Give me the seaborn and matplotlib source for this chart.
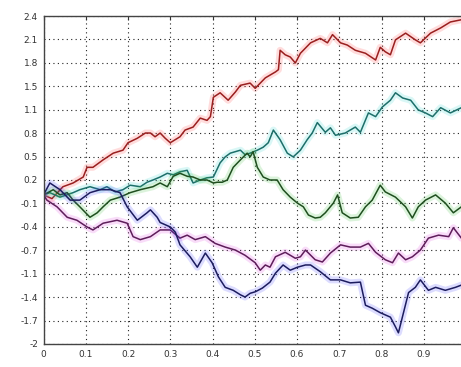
import numpy as np
import pandas as pd
import seaborn as sns
import matplotlib
matplotlib.use("Agg")
from matplotlib import pyplot as plt
import matplotlib.patheffects as pe

# five sample paths
red_t = [0, 0.02, 0.046, 0.07, 0.094, 0.103, 0.117, 0.141, 0.165, 0.188, 0.2, 0.222, 0.241, 0.253,
         0.264, 0.276, 0.288, 0.3, 0.323, 0.335, 0.354, 0.371, 0.387, 0.395, 0.402, 0.418, 0.437,
         0.454, 0.466, 0.489, 0.501, 0.525, 0.549, 0.556, 0.56, 0.572, 0.584, 0.596, 0.608, 0.632,
         0.655, 0.672, 0.684, 0.703, 0.719, 0.738, 0.762, 0.786, 0.797, 0.809, 0.821, 0.833, 0.857,
         0.88, 0.892, 0.916, 0.94, 0.963, 0.989, 1.0]
red_y = [0, -0.05, 0.11, 0.16, 0.24, 0.37, 0.37, 0.47, 0.56, 0.60, 0.70, 0.76, 0.83, 0.83,
         0.78, 0.83, 0.76, 0.70, 0.78, 0.87, 0.91, 1.03, 1.00, 1.05, 1.31, 1.37, 1.27,
         1.38, 1.47, 1.50, 1.43, 1.57, 1.65, 1.68, 1.94, 1.88, 1.85, 1.77, 1.90, 2.04,
         2.10, 2.04, 2.15, 2.04, 2.01, 1.94, 1.90, 1.81, 1.98, 1.92, 1.88, 2.08, 2.17,
         2.08, 2.04, 2.17, 2.24, 2.32, 2.35, 2.37]

cyan_t = [0, 0.015, 0.039, 0.07, 0.086, 0.11, 0.134, 0.15, 0.17, 0.188, 0.205, 0.229, 0.245,
          0.259, 0.276, 0.293, 0.307, 0.323, 0.34, 0.354, 0.371, 0.387, 0.402, 0.418, 0.43,
          0.442, 0.466, 0.477, 0.489, 0.506, 0.52, 0.532, 0.544, 0.56, 0.577, 0.591, 0.608,
          0.624, 0.636, 0.648, 0.667, 0.679, 0.691, 0.714, 0.738, 0.75, 0.769, 0.786, 0.802,
          0.821, 0.833, 0.85, 0.869, 0.887, 0.904, 0.921, 0.94, 0.963, 0.989, 1.0]
cyan_y = [0, 0.03, -0.03, 0.03, 0.07, 0.11, 0.07, 0.11, 0.04, 0.07, 0.13, 0.11, 0.17,
          0.20, 0.24, 0.29, 0.27, 0.31, 0.33, 0.16, 0.20, 0.23, 0.24, 0.43, 0.51,
          0.56, 0.60, 0.54, 0.56, 0.60, 0.64, 0.70, 0.87, 0.74, 0.56, 0.51, 0.60,
          0.74, 0.83, 0.97, 0.84, 0.90, 0.80, 0.83, 0.91, 0.84, 1.10, 1.05, 1.18,
          1.27, 1.37, 1.30, 1.27, 1.14, 1.10, 1.05, 1.17, 1.10, 1.17, 1.13]

green_t = [0, 0.023, 0.039, 0.056, 0.07, 0.086, 0.11, 0.127, 0.141, 0.158, 0.181, 0.205, 0.229,
           0.259, 0.276, 0.293, 0.307, 0.323, 0.34, 0.354, 0.371, 0.387, 0.402, 0.411, 0.423,
           0.435, 0.449, 0.466, 0.482, 0.489, 0.496, 0.506, 0.52, 0.536, 0.553, 0.567, 0.584,
           0.601, 0.615, 0.627, 0.643, 0.655, 0.667, 0.686, 0.696, 0.707, 0.726, 0.745, 0.762,
           0.778, 0.797, 0.809, 0.833, 0.857, 0.873, 0.887, 0.904, 0.928, 0.951, 0.97, 0.989, 1.0]
green_y = [0, 0.07, 0.0, 0.03, -0.07, -0.16, -0.30, -0.24, -0.16, -0.07, -0.03, 0.03, 0.07,
           0.11, 0.16, 0.11, 0.25, 0.29, 0.25, 0.24, 0.20, 0.20, 0.16, 0.17, 0.17,
           0.20, 0.37, 0.47, 0.56, 0.51, 0.58, 0.37, 0.24, 0.20, 0.20, 0.07, -0.03,
           -0.11, -0.16, -0.27, -0.31, -0.30, -0.24, -0.11, 0.0, -0.24, -0.31, -0.30, -0.16,
           -0.07, 0.13, 0.04, -0.03, -0.16, -0.31, -0.16, -0.07, 0.0, -0.11, -0.24, -0.16, -0.18]

magenta_t = [0, 0.008, 0.032, 0.056, 0.079, 0.103, 0.117, 0.141, 0.174, 0.198, 0.212, 0.229,
             0.253, 0.276, 0.3, 0.323, 0.34, 0.359, 0.383, 0.406, 0.43, 0.454, 0.477, 0.501,
             0.513, 0.525, 0.536, 0.549, 0.572, 0.596, 0.608, 0.62, 0.643, 0.66, 0.679, 0.703,
             0.726, 0.75, 0.769, 0.786, 0.809, 0.826, 0.84, 0.857, 0.873, 0.892, 0.911, 0.935,
             0.959, 0.97, 0.989, 1.0]
magenta_y = [0, -0.07, -0.16, -0.30, -0.34, -0.43, -0.47, -0.38, -0.34, -0.38, -0.56, -0.60,
             -0.56, -0.47, -0.47, -0.58, -0.54, -0.60, -0.56, -0.65, -0.70, -0.74, -0.81, -0.91,
             -1.01, -0.94, -0.97, -0.83, -0.77, -0.85, -0.83, -0.74, -0.87, -0.90, -0.78, -0.67,
             -0.70, -0.70, -0.65, -0.77, -0.87, -0.91, -0.78, -0.87, -0.83, -0.74, -0.58, -0.54,
             -0.56, -0.44, -0.58, -0.55]

blue_t = [0, 0.015, 0.039, 0.063, 0.086, 0.11, 0.134, 0.158, 0.181, 0.198, 0.222, 0.245, 0.253,
          0.269, 0.276, 0.3, 0.312, 0.323, 0.347, 0.364, 0.383, 0.399, 0.414, 0.43, 0.449,
          0.466, 0.477, 0.489, 0.501, 0.518, 0.536, 0.549, 0.567, 0.584, 0.601, 0.62, 0.632,
          0.655, 0.679, 0.703, 0.726, 0.75, 0.762, 0.778, 0.797, 0.821, 0.833, 0.84, 0.852,
          0.864, 0.88, 0.892, 0.911, 0.928, 0.951, 0.975, 0.989, 1.0]
blue_y = [0, 0.16, 0.07, -0.07, -0.07, 0.03, 0.07, 0.07, 0.03, -0.16, -0.34, -0.24, -0.20,
          -0.30, -0.37, -0.43, -0.50, -0.67, -0.83, -0.97, -0.78, -0.91, -1.10, -1.24, -1.28,
          -1.34, -1.37, -1.32, -1.30, -1.25, -1.17, -1.05, -0.94, -1.01, -0.97, -0.94, -0.94,
          -1.03, -1.14, -1.14, -1.18, -1.17, -1.48, -1.52, -1.58, -1.64, -1.77, -1.85, -1.58,
          -1.31, -1.24, -1.14, -1.28, -1.24, -1.28, -1.24, -1.21, -1.20]

series = [
    ("red", red_t, red_y, "#9a1f1f", "#ff4040"),
    ("cyan", cyan_t, cyan_y, "#1d6f6a", "#30d8d0"),
    ("green", green_t, green_y, "#1f4f1f", "#3cc03c"),
    ("magenta", magenta_t, magenta_y, "#5e1d5a", "#e040e0"),
    ("blue", blue_t, blue_y, "#1c1c5e", "#4040ff"),
]

ytick_labels = ["-2", "-1.7", "-1.4", "-1.1", "-0.7", "-0.4", "-0.1", "0.2",
                "0.5", "0.8", "1.1", "1.5", "1.8", "2.1", "2.4"]
# the label of the last tick (1) falls outside the picture in the reference
xtick_labels = ["0", "0.1", "0.2", "0.3", "0.4", "0.5", "0.6", "0.7", "0.8", "0.9", ""]

sns.set_style("white")
plt.rcParams["font.family"] = ["DejaVu Sans"]

fig = plt.figure(figsize=(4.61, 3.67), dpi=100)
# right edge of the axes runs past the picture, as in the reference
ax = fig.add_axes([0.0944, 0.0627, 0.9165, 0.8937])

for name, t, y, core, glow in series:
    df = pd.DataFrame({"t": t, "y": y})
    sns.lineplot(data=df, x="t", y="y", ax=ax, color=core, lw=1.1, sort=False,
                 estimator=None,
                 path_effects=[pe.Stroke(linewidth=5, foreground=glow, alpha=0.18),
                               pe.Normal()])

ax.set_xlim(0, 1)
ax.set_ylim(-2, 2.4)
ax.set_xticks(np.linspace(0, 1, 11))
ax.set_xticklabels(xtick_labels)
ax.set_yticks(np.linspace(-2, 2.4, 15))
ax.set_yticklabels(ytick_labels)
ax.set_xlabel("")
ax.set_ylabel("")

ax.grid(True, color="#222222", linestyle=(0, (1, 3)), linewidth=0.8)
ax.set_axisbelow(True)
ax.tick_params(direction="in", length=3, width=0.8, top=True, right=True,
               labelsize=6.5, colors="#333333", pad=4)
for s in ax.spines.values():
    s.set_color("#444444")
    s.set_linewidth(1.0)

fig.savefig("out.png", dpi=100)
